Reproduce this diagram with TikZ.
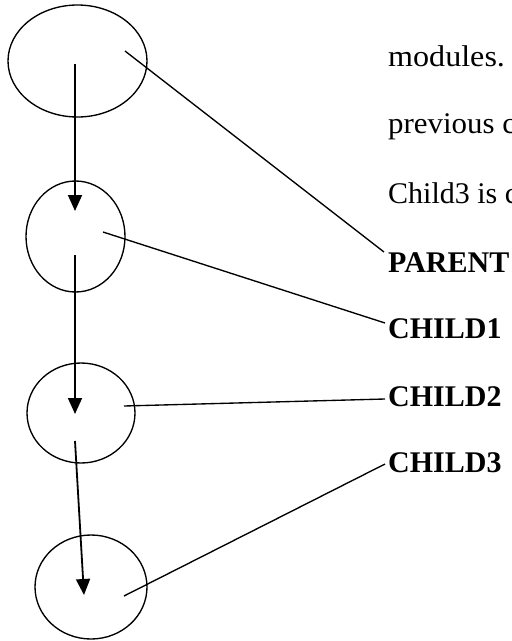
\documentclass[tikz,border=0pt]{standalone}
\usepackage{fontspec}
\setmainfont{Liberation Serif}
\usetikzlibrary{arrows.meta,shapes.geometric}
\begin{document}
\begin{tikzpicture}[x=1pt,y=-1pt,
  mod/.style={draw,ellipse,line width=1.35pt,inner sep=0pt},
  link/.style={line width=1.35pt},
  flow/.style={line width=1.8pt,-{Triangle[width=14pt,length=16pt]}},
  lab/.style={anchor=base west,inner sep=0pt,font=\fontsize{30}{31}\selectfont\bfseries},
  txt/.style={anchor=base west,inner sep=0pt,font=\fontsize{30}{31}\selectfont}]
\useasboundingbox (0,0) rectangle (512,641);
\clip (0,0) rectangle (512,641);
% modules
\node[mod,minimum width=139pt,minimum height=112pt] (p) at (77.5,61) {};
\node[mod,minimum width=99pt,minimum height=111pt] (c1) at (75.5,236.5) {};
\node[mod,minimum width=108pt,minimum height=100pt] (c2) at (81,413) {};
\node[mod,minimum width=112pt,minimum height=104pt] (c3) at (91,587) {};
% interior points
\coordinate (ps) at (75,64);
\coordinate (pt) at (75,211);
\coordinate (c1s) at (75,255);
\coordinate (c1t) at (75,414);
\coordinate (c2s) at (75,441);
\coordinate (c2t) at (84,595);
\coordinate (pl) at (125,51);
\coordinate (c1l) at (103,232);
\coordinate (c2l) at (124,406);
\coordinate (c3l) at (124,596);
% text
\node[txt] (t1) at (388,66) {\scalebox{1.07}[1]{modules.}};
\node[txt] (t2) at (388,133) {\scalebox{1.03}[1]{previous c}};
\node[txt] (t3) at (388,203) {Child3 is c};
\node[lab] (lp) at (388,272) {PARENT};
\node[lab] (l1) at (388,338) {CHILD1};
\node[lab] (l2) at (388,406) {CHILD2};
\node[lab] (l3) at (388,472) {CHILD3};
% arrows
\draw[flow] (ps) -- (pt);
\draw[flow] (c1s) -- (c1t);
\draw[flow] (c2s) -- (c2t);
% leaders
\draw[link] (pl) -- ([xshift=-4pt,yshift=20pt]lp.base west);
\draw[link] (c1l) -- ([xshift=-3pt,yshift=15pt]l1.base west);
\draw[link] (c2l) -- ([xshift=-3pt,yshift=7pt]l2.base west);
\draw[link] (c3l) -- ([xshift=-3pt,yshift=8pt]l3.base west);
\end{tikzpicture}
\end{document}
